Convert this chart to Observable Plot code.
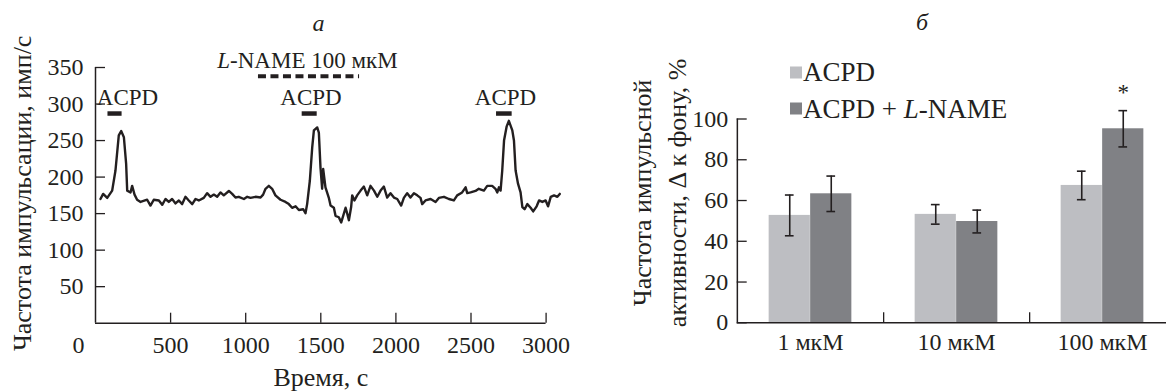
<!DOCTYPE html>
<html>
<head>
<meta charset="utf-8">
<script src="https://cdn.jsdelivr.net/npm/d3@7"></script>
<script src="https://cdn.jsdelivr.net/npm/@observablehq/plot@0.6"></script>
<style>
  html, body { margin: 0; padding: 0; background: #fff; }
  #wrap { position: relative; width: 1166px; height: 391px; overflow: hidden;
          font-family: "Liberation Serif", "Times New Roman", serif; color: #231f20; }
  #left, #right { position: absolute; top: 0; }
  #left { left: 0; }
  #right { left: 583px; }
  .ttl { position: absolute; font-style: italic; font-size: 24px; transform: translate(-50%, -50%); line-height: 1; }
  .lg { position: absolute; font-size: 27px; line-height: 1; display: flex; align-items: center; transform: translateY(-50%); }
  .lg .sw { width: 12px; height: 12px; margin-right: 1px; }
</style>
</head>
<body>
<div id="wrap">
  <div id="left"></div>
  <div id="right"></div>
</div>
<script>
// ---------- panel а : firing-rate trace ----------
const traceTime = [33,51,78,111,133,155,171,189,204,211,233,244,260,277,
  300,344,366,388,422,444,466,488,510,533,555,577,599,621,644,666,688,
  721,743,766,788,810,832,854,888,910,932,954,988,1010,1032,1065,1099,1116,1132,1154,1176,1198,
  1232,1265,1287,1309,1332,1354,1383,1398,1409,1427,1443,1454,1476,1487,1498,1509,1516,1531,1553,
  1565,1587,1598,1620,1636,1649,1665,1676,1687,1702,1709,1724,1742,1765,1787,1809,1831,1854,1876,1898,1920,1942,1964,1987,2009,
  2035,2053,2075,2097,2120,2142,2164,2175,2197,2231,2264,2286,2320,2353,2386,2408,2441,2464,2475,2497,2530,2552,2586,2608,2641,2663,2675,2686,2697,
  2708,2720,2737,2752,2775,2786,2797,2813,2830,2842,2857,2875,2897,2914,2937,2953,2975,2997,3013,3031,3053,3075,3091];
const traceRate = [170,177,171.5,181.5,209,257,263,254.5,218,181.5,179,188,176,169,
  166,169,161,169,168,162,170,166,170,164,168,163,173,168,163,170,168,
  171.5,178,173,176,173,179,175,181,177,172,173,170,173,171.5,173,172,176,184,188,184,175,
  169,166,163,158,160,155,156,150.5,163,195,241,264,268,261,213,184,211,186,172,
  161,158,147,145,138,147,158,150,141,159,175,168,175,181.5,187,175,188,181.5,173,181.5,187,172,178,172,170,
  161,171.5,178,172,178,175,171.5,163,168,170,166,171.5,173,170,168,175,179,186,178,179,181,184,181.5,188,188,184,179,186,181.5,
  209,250,269,277,264,250,209,191,179,159,156,163,158,153,160,168,166,168,160,173,175,173,177];

const yTicksLeft = [50, 100, 150, 200, 250, 300, 350];
const xTicksLeft = [500, 1000, 1500, 2000, 2500, 3000];
const xZeroLabel = [0];

const acpdStart = [83, 1376, 2670];
const acpdEnd = [177, 1476, 2774];
const acpdLabelTime = [213, 1435, 2730];
const acpdBarLevel = 287;
const acpdLabelLevel = 309;

const lnameStart = 1085, lnameEnd = 1758, lnameLevel = 338;
const lnameLabelTime = 1411, lnameLabelLevel = 359.5;
const lnameLabel = "L-NAME 100 мкМ";

// ---------- panel б : bar chart ----------
const concentrations = ["1 мкМ", "10 мкМ", "100 мкМ"];
const series = ["ACPD", "ACPD + L-NAME"];
const acpdMean = [52.7, 53.2, 67.4];
const acpdErr = [10.0, 4.8, 7.0];
const lnameMean = [63.3, 49.7, 95.2];
const lnameErr = [8.7, 5.6, 8.9];
const significance = ["", "", "*"];
const yTicksRight = [0, 20, 40, 60, 80, 100];

const INK = "#231f20";
const LIGHT = "#bdbec2";
const DARK = "#808185";
const FONT = "'Liberation Serif', 'Times New Roman', serif";
const FS = 24;
const TS = 26;
const fmt = d => String(d);

// ---------- build panel а ----------
const trace = traceTime.map((t, i) => ({t, v: traceRate[i]}));
const acpdEvents = acpdStart.map((s, i) => ({start: s, end: acpdEnd[i], label: acpdLabelTime[i]}));
const lname = [{start: lnameStart, end: lnameEnd, level: lnameLevel, lt: lnameLabelTime, ll: lnameLabelLevel, text: lnameLabel}];

const left = Plot.plot({
  width: 583, height: 391,
  marginLeft: 95, marginRight: 37.4, marginTop: 67, marginBottom: 68.3,
  style: {fontFamily: FONT, fontSize: FS + "px", color: INK, background: "transparent", overflow: "visible"},
  x: {domain: [0, 3000]},
  y: {domain: [0, 350]},
  marks: [
    Plot.ruleX([0], {stroke: INK, strokeWidth: 1.5}),
    Plot.ruleY([0], {stroke: INK, strokeWidth: 1.5}),
    Plot.axisY(yTicksLeft, {tickSize: -10, tickFormat: () => "", label: null, strokeWidth: 1.3}),
    Plot.axisY(yTicksLeft, {tickSize: 0, tickPadding: 12, tickFormat: fmt, label: null, fontSize: FS}),
    Plot.axisX(xTicksLeft, {tickSize: -10, tickFormat: () => "", label: null, strokeWidth: 1.3}),
    Plot.axisX(xTicksLeft, {tickSize: 0, tickPadding: 13, tickFormat: fmt, label: null, fontSize: FS}),
    Plot.text(xZeroLabel, {x: d => d, y: () => 0, text: d => String(d), lineAnchor: "top", dy: 13, dx: -17, fontSize: FS}),
    Plot.line(trace, {x: "t", y: "v", stroke: INK, strokeWidth: 2.4, strokeLinejoin: "round"}),
    Plot.ruleY(acpdEvents, {x1: "start", x2: "end", y: () => acpdBarLevel, stroke: INK, strokeWidth: 4.5}),
    Plot.text(acpdEvents, {x: "label", y: () => acpdLabelLevel, text: () => "ACPD", fontSize: 23, lineAnchor: "middle"}),
    Plot.ruleY(lname, {x1: "start", x2: "end", y: "level", stroke: INK, strokeWidth: 4, strokeDasharray: "8,4.5"}),
    Plot.text(lname, {x: "lt", y: "ll", text: "text", fontSize: 23, lineAnchor: "middle"}),
    Plot.text(["Время, с"], {frameAnchor: "bottom", dy: 54, fontSize: TS, lineAnchor: "middle"}),
    Plot.text(["Частота импульсации, имп/с"], {frameAnchor: "left", textAnchor: "middle", rotate: -90, dx: -73, dy: -2, fontSize: TS, lineAnchor: "middle"})
  ]
});
document.getElementById("left").appendChild(left);

// ---------- build panel б ----------
const bars = concentrations.flatMap((c, i) => [
  {c, s: series[0], mean: acpdMean[i], err: acpdErr[i], sig: ""},
  {c, s: series[1], mean: lnameMean[i], err: lnameErr[i], sig: significance[i]}
]);
const xRange = [153.7, 592.6];
const bw = (xRange[1] - xRange[0]) / concentrations.length;
const barW = 41.5, capW = 9;
const lightBars = bars.filter(d => d.s === series[0]);
const darkBars = bars.filter(d => d.s === series[1]);
const capLightL = bw / 2 - barW / 2 - capW / 2;
const capLightR = bw - (bw / 2 - barW / 2 + capW / 2);

const right = Plot.plot({
  width: 583, height: 391,
  marginLeft: 153.7, marginRight: 0, marginTop: 118.5, marginBottom: 68.7,
  style: {fontFamily: FONT, fontSize: FS + "px", color: INK, background: "transparent", overflow: "visible"},
  x: {type: "band", domain: concentrations, range: xRange, padding: 0},
  y: {domain: [0, 100]},
  marks: [
    Plot.barY(lightBars, {x: "c", y: "mean", fill: LIGHT, insetLeft: bw / 2 - barW, insetRight: bw / 2}),
    Plot.barY(darkBars, {x: "c", y: "mean", fill: DARK, insetLeft: bw / 2, insetRight: bw / 2 - barW}),
    Plot.ruleX(lightBars, {x: "c", y1: d => d.mean - d.err, y2: d => d.mean + d.err, dx: -barW / 2, stroke: INK, strokeWidth: 1.6}),
    Plot.ruleX(darkBars, {x: "c", y1: d => d.mean - d.err, y2: d => d.mean + d.err, dx: barW / 2, stroke: INK, strokeWidth: 1.6}),
    Plot.tickY(lightBars, {x: "c", y: d => d.mean + d.err, insetLeft: capLightL, insetRight: capLightR, stroke: INK, strokeWidth: 1.6}),
    Plot.tickY(lightBars, {x: "c", y: d => d.mean - d.err, insetLeft: capLightL, insetRight: capLightR, stroke: INK, strokeWidth: 1.6}),
    Plot.tickY(darkBars, {x: "c", y: d => d.mean + d.err, insetLeft: capLightR, insetRight: capLightL, stroke: INK, strokeWidth: 1.6}),
    Plot.tickY(darkBars, {x: "c", y: d => d.mean - d.err, insetLeft: capLightR, insetRight: capLightL, stroke: INK, strokeWidth: 1.6}),
    Plot.text(darkBars.filter(d => d.sig), {x: "c", y: d => d.mean + d.err, text: "sig", dx: barW / 2, dy: -18, fontSize: 23, lineAnchor: "middle"}),
    Plot.ruleX([concentrations[0]], {x: d => d, y1: 0, y2: 100, dx: -bw / 2, stroke: INK, strokeWidth: 1.5}),
    Plot.ruleY([0], {stroke: INK, strokeWidth: 1.5}),
    Plot.axisY(yTicksRight, {tickSize: -10, tickFormat: () => "", label: null, strokeWidth: 1.3}),
    Plot.axisY(yTicksRight, {tickSize: 0, tickPadding: 9, tickFormat: fmt, label: null, fontSize: FS}),
    Plot.axisX(concentrations.slice(0, -1), {tickSize: -10, tickFormat: () => "", dx: bw / 2, label: null, strokeWidth: 1.3}),
    Plot.axisX(concentrations, {tickSize: 0, tickPadding: 10, label: null, fontSize: FS}),
    Plot.text(["Частота импульсной\nактивности, Δ к фону, %"], {frameAnchor: "left", textAnchor: "middle", rotate: -90, dx: -80, dy: -28, fontSize: TS, lineHeight: 1.35, lineAnchor: "middle"})
  ]
});
document.getElementById("right").appendChild(right);

// italic "L" in L-NAME
document.querySelectorAll("#wrap svg text").forEach(t => {
  if (t.children.length === 0 && t.textContent.startsWith("L-NAME")) {
    const rest = t.textContent.slice(1);
    t.textContent = "";
    const a = document.createElementNS("http://www.w3.org/2000/svg", "tspan");
    a.setAttribute("font-style", "italic"); a.textContent = "L";
    const b = document.createElementNS("http://www.w3.org/2000/svg", "tspan");
    b.textContent = rest;
    t.appendChild(a); t.appendChild(b);
  }
});

// panel titles and legend (HTML overlays)
const wrap = document.getElementById("wrap");
[["а", 318.5, 23], ["б", 922, 22]].forEach(([s, x, y]) => {
  const d = document.createElement("div");
  d.className = "ttl"; d.textContent = s;
  d.style.left = x + "px"; d.style.top = y + "px";
  wrap.appendChild(d);
});
const legendColors = [LIGHT, DARK];
series.forEach((s, i) => {
  const row = document.createElement("div");
  row.className = "lg";
  row.style.left = "790px";
  row.style.top = (72 + i * 36.5) + "px";
  const sw = document.createElement("span");
  sw.className = "sw"; sw.style.background = legendColors[i];
  row.appendChild(sw);
  const tx = document.createElement("span");
  tx.innerHTML = s.replace("L-NAME", "<i>L</i>-NAME");
  row.appendChild(tx);
  wrap.appendChild(row);
});
</script>
</body>
</html>
